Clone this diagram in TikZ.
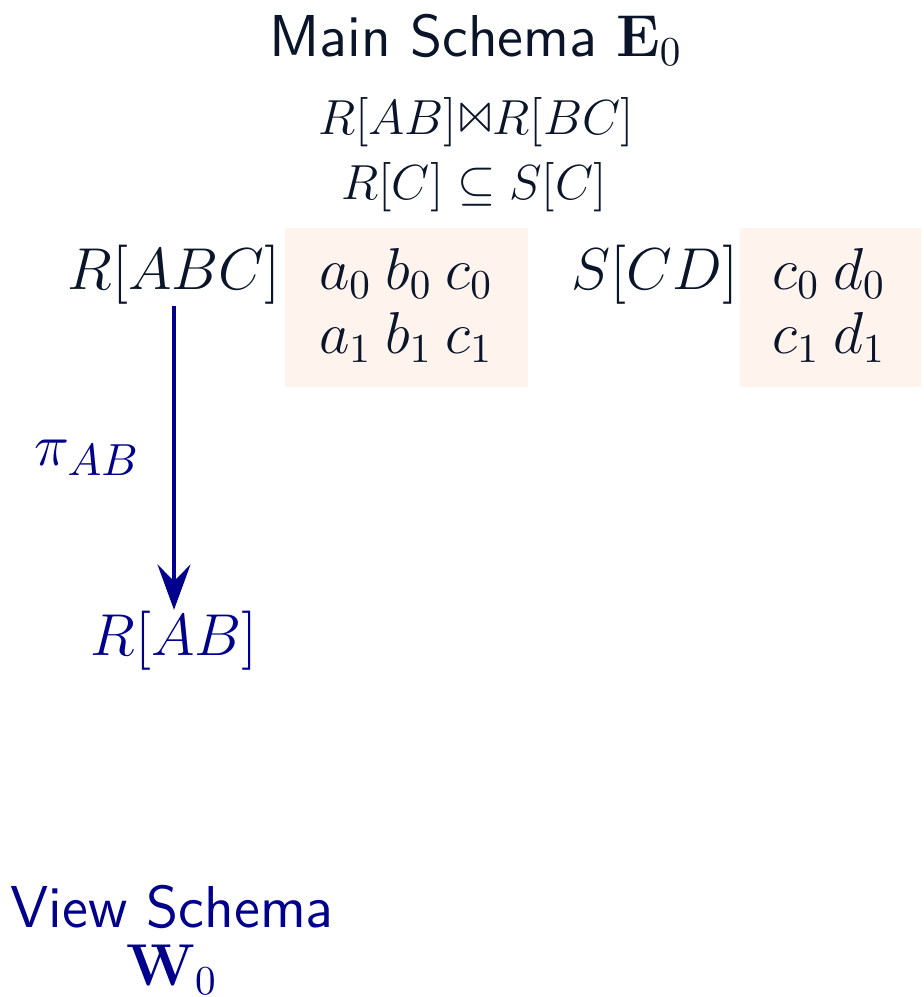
\documentclass[tikz,border=0pt]{standalone}
\usepackage{amssymb}
\usepackage{latexsym}
\usetikzlibrary{arrows.meta}

\definecolor{ink}{RGB}{11,21,42}
\definecolor{viewblue}{RGB}{0,0,140}
\definecolor{tuplebg}{RGB}{255,243,237}

\begin{document}
\begin{tikzpicture}[
  x=0.2435pt, y=-0.2435pt,
  every node/.style={text=ink, inner sep=0pt},
  rel/.style={font=\Large, anchor=base},
  row/.style={font=\Large, anchor=base},
  cons/.style={font=\large, anchor=base},
  proj/.style={-{Stealth[length=11pt, width=8pt, inset=4pt]}, viewblue, line width=1.1pt}
]
  \useasboundingbox (0,0) rectangle (924,997);

  % main schema
  \node[font=\Large\sffamily, anchor=base] (title) at (476,57) {Main Schema $\mathbf{E}_0$};
  \node[cons] (join) at (476,135) {$R[AB]{\Join}R[BC]$};
  \node[cons] (incl) at (474,200) {$R[C] \subseteq S[C]$};

  % instance backgrounds
  \fill[tuplebg] (285,228) rectangle (528,387);
  \fill[tuplebg] (740,228) rectangle (921,387);

  % relations and tuples
  \node[rel] (rabc) at (174,290) {$R[ABC]$};
  \node[row] (r0) at (406,290) {$a_0\:b_0\:c_0$};
  \node[row] (r1) at (406,354) {$a_1\:b_1\:c_1$};
  \node[rel] (scd) at (655,290) {$S[CD]$};
  \node[row] (s0) at (829,290) {$c_0\:d_0$};
  \node[row] (s1) at (829,354) {$c_1\:d_1$};

  % view
  \node[rel, text=viewblue] (rab) at (174,655) {$R[AB]$};
  \draw[proj] (rabc.south) -- (rab.north)
    node[midway, left=7.8pt, font=\fontsize{15.4}{18}\selectfont, text=viewblue] (piab) {$\pi_{AB}$};

  \node[font=\Large\sffamily, text=viewblue, align=center] (vtitle) at (172,940)
    {View Schema\\[-4pt] $\mathbf{W}_0$};
\end{tikzpicture}
\end{document}
